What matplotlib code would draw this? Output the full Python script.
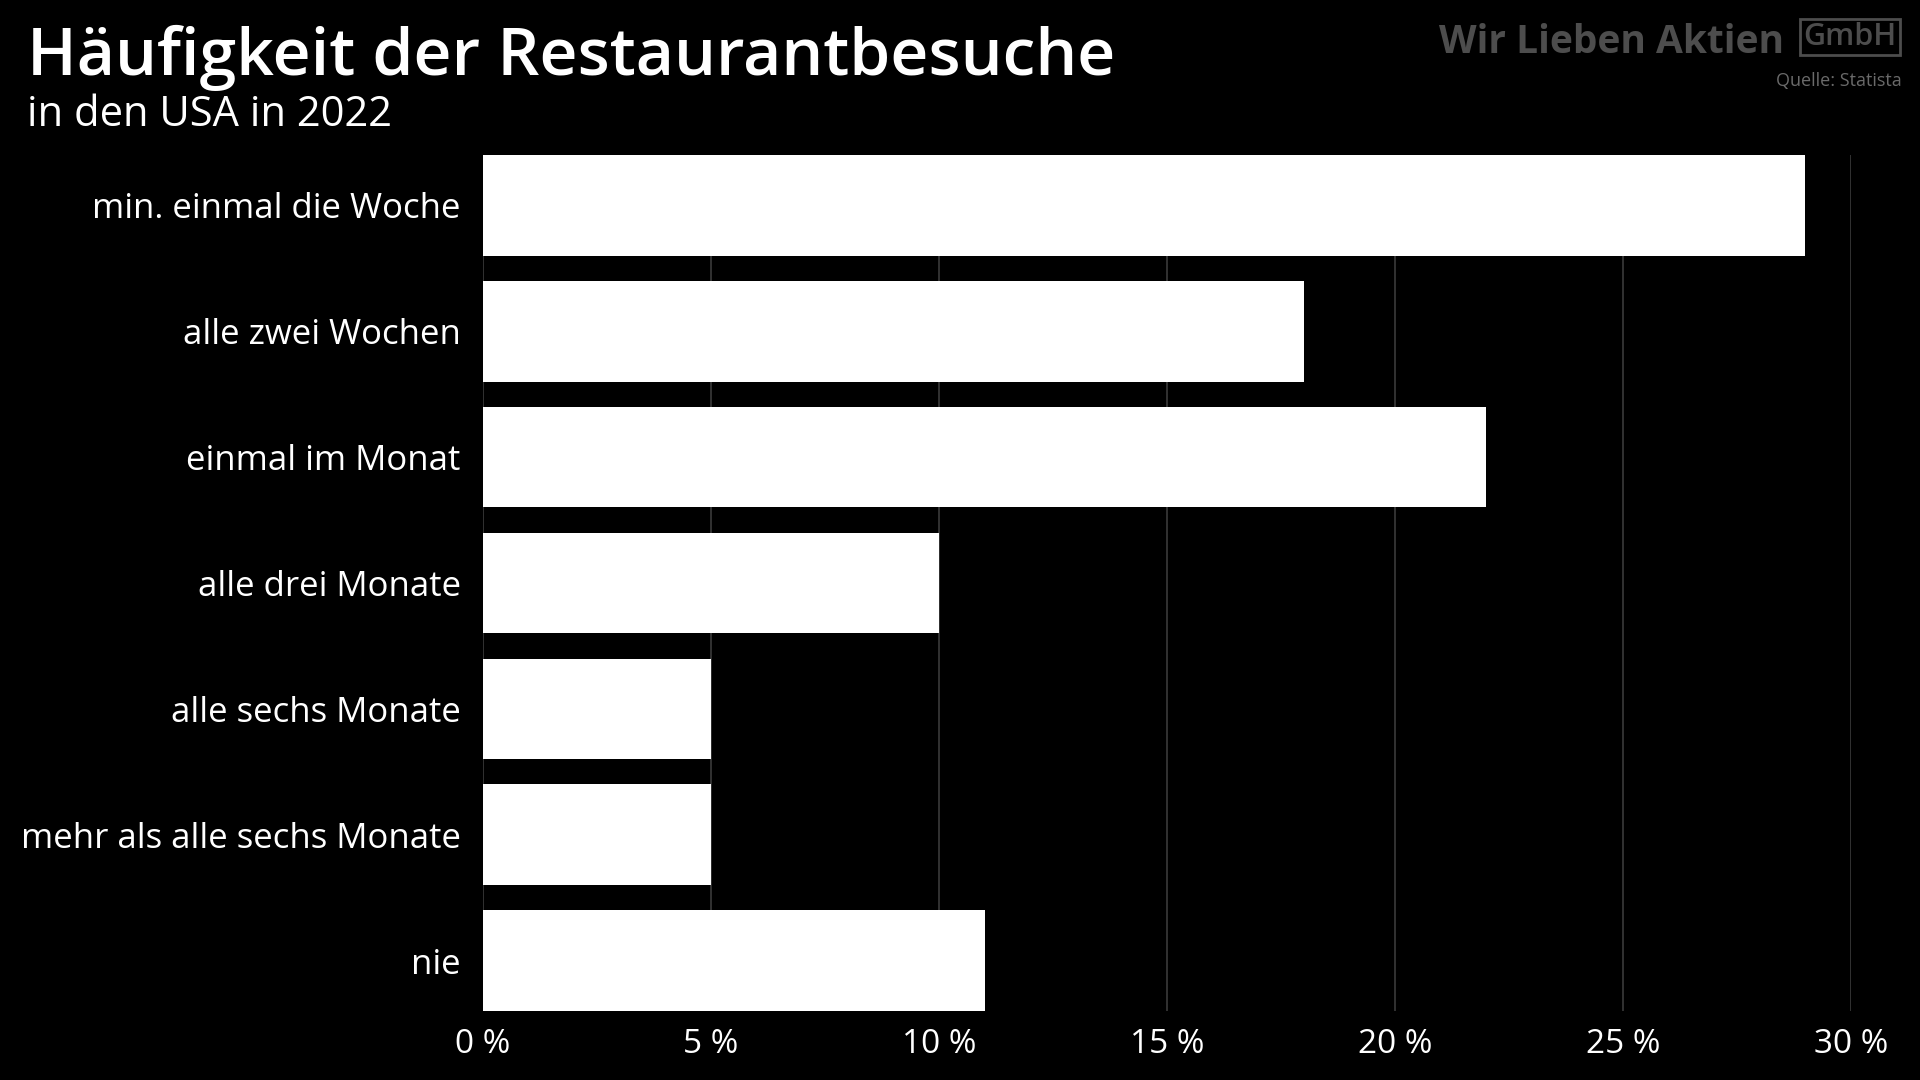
import matplotlib
matplotlib.use("Agg")
import matplotlib.pyplot as plt

plt.rcParams['font.family'] = ['Open Sans', 'DejaVu Sans']

categories = ["min. einmal die Woche", "alle zwei Wochen", "einmal im Monat",
              "alle drei Monate", "alle sechs Monate", "mehr als alle sechs Monate", "nie"]
values = [29, 18, 22, 10, 5, 5, 11]
xticks = [0, 5, 10, 15, 20, 25, 30]
xtick_labels = ["0 %", "5 %", "10 %", "15 %", "20 %", "25 %", "30 %"]

fig = plt.figure(figsize=(19.2, 10.8), dpi=100, facecolor='black')
ax = fig.add_axes([0.2516, 0.0639, 0.964 - 0.2516, 0.8565 - 0.0639])
ax.set_facecolor('black')

y = list(range(len(categories)))
ax.barh(y, values, height=0.8, color='white', zorder=3)
ax.set_ylim(len(categories) - 0.6, -0.4)
ax.set_xlim(0, 30)
ax.set_xticks(xticks)
ax.set_xticklabels(xtick_labels, color='white', fontsize=24)
ax.set_yticks(y)
ax.set_yticklabels(categories, color='white', fontsize=25)
ax.tick_params(axis='x', length=0, pad=12)
ax.tick_params(axis='y', length=0, pad=16)
for s in ax.spines.values():
    s.set_visible(False)
ax.grid(axis='x', color='#3a3a3a', linewidth=1.2, zorder=0)

fig.text(27 / 1920, 1 - 75 / 1080, "Häufigkeit der Restaurantbesuche", color='white',
         fontsize=47.6, fontweight='semibold', ha='left', va='baseline')
fig.text(27 / 1920, 1 - 126 / 1080, "in den USA in 2022", color='white',
         fontsize=30, ha='left', va='baseline')

fig.text(1784 / 1920, 1 - 53 / 1080, "Wir Lieben Aktien", color='#4d4d4d',
         fontsize=28, fontweight='bold', ha='right', va='baseline')
fig.text(1850 / 1920, 1 - 37 / 1080, "GmbH", color='#4d4d4d',
         fontsize=22, fontweight='semibold', ha='center', va='center',
         bbox=dict(boxstyle='square,pad=0.1', fc='none', ec='#4d4d4d', lw=2))
fig.text(1902 / 1920, 1 - 86 / 1080, "Quelle: Statista", color='#6a6a6a',
         fontsize=13, ha='right', va='baseline')

fig.savefig("out.png", dpi=100, facecolor='black')
